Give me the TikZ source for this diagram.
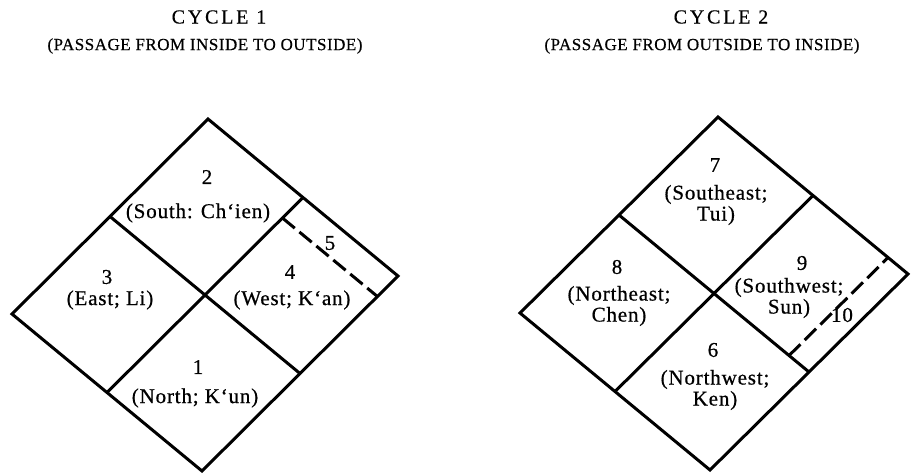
\documentclass[tikz,border=0pt]{standalone}
\usepackage{fontspec}
\setmainfont{Liberation Serif}
\newfontfamily\titlefont{Liberation Serif}[LetterSpace=14,FakeBold=0.4]
\newfontfamily\subfont{Liberation Serif}[LetterSpace=3,FakeBold=0.4]
\newfontfamily\labfont{Liberation Serif}[LetterSpace=4,FakeBold=0.6]
\usetikzlibrary{calc}
\begin{document}
\begin{tikzpicture}[x=1pt,y=-1pt,
  edge/.style={line width=3pt,line join=miter,line cap=butt},
  dashline/.style={line width=3pt,dash pattern=on 16pt off 6pt},
  ttl/.style={inner sep=0pt,font=\titlefont\fontsize{20}{22}\selectfont},
  sub/.style={inner sep=0pt,font=\subfont\fontsize{17}{19}\selectfont},
  lab/.style={inner sep=0pt,align=center,font=\labfont\fontsize{21}{21}\selectfont}]
\useasboundingbox (0,0) rectangle (920,472);
% titles
\node[ttl] (t1) at (219,17) {CYCLE 1};
\node[sub] (s1) at (205,46) {(PASSAGE FROM INSIDE TO OUTSIDE)};
\node[ttl] (t2) at (721,17) {CYCLE 2};
\node[sub] (s2) at (702,46) {(PASSAGE FROM OUTSIDE TO INSIDE)};
% left diamond
\coordinate (T1) at (208,119);
\coordinate (R1) at (398,276);
\coordinate (B1) at (202,471);
\coordinate (L1) at (12,314);
\coordinate (C1) at ($(T1)!0.5!(B1)$);
\coordinate (mTL1) at ($(T1)!0.5!(L1)$);
\coordinate (mRB1) at ($(R1)!0.5!(B1)$);
\coordinate (mLB1) at ($(L1)!0.5!(B1)$);
\coordinate (mTR1) at ($(T1)!0.5!(R1)$);
\coordinate (P1) at ($(mTR1)!0.21!(C1)$);
\coordinate (Q1) at ($(R1)!0.105!(B1)$);
\draw[edge] (T1) -- (R1) -- (B1) -- (L1) -- cycle;
\draw[edge] (mTL1) -- (mRB1);
\draw[edge] (mLB1) -- (mTR1);
\draw[dashline] (P1) -- (Q1);
% right diamond
\coordinate (T2) at (718,117);
\coordinate (R2) at (908,274);
\coordinate (B2) at (710,470);
\coordinate (L2) at (520,313);
\coordinate (C2) at ($(T2)!0.5!(B2)$);
\coordinate (mTL2) at ($(T2)!0.5!(L2)$);
\coordinate (mRB2) at ($(R2)!0.5!(B2)$);
\coordinate (mLB2) at ($(L2)!0.5!(B2)$);
\coordinate (mTR2) at ($(T2)!0.5!(R2)$);
\coordinate (P2) at ($(mRB2)!0.21!(C2)$);
\coordinate (Q2) at ($(R2)!0.105!(T2)$);
\draw[edge] (T2) -- (R2) -- (B2) -- (L2) -- cycle;
\draw[edge] (mTL2) -- (mRB2);
\draw[edge] (mLB2) -- (mTR2);
\draw[dashline] (P2) -- (Q2);
% left labels
\node[lab] (n2) at (207,177) {2};
\node[lab] (l2) at (198,213) {(South: Ch‘ien)};
\node[lab] (n3) at (107,277) {3};
\node[lab] (l3) at (110,300) {(East; Li)};
\node[lab] (n4) at (290,272) {4};
\node[lab] (l4) at (292,300) {(West; K‘an)};
\node[lab] (n5) at (330,243) {5};
\node[lab] (n1) at (198,367) {1};
\node[lab] (l1) at (195,398) {(North; K‘un)};
% right labels
\node[lab] (n7) at (715,165) {7};
\node[lab] (l7) at (716,205) {(Southeast;\\Tui)};
\node[lab] (n8) at (617,267) {8};
\node[lab] (l8) at (619,306) {(Northeast;\\Chen)};
\node[lab] (n9) at (802,263) {9};
\node[lab] (l9) at (789,298) {(Southwest;\\Sun)};
\node[lab] (n10) at (842,315) {10};
\node[lab] (n6) at (713,350) {6};
\node[lab] (l6) at (715,390) {(Northwest;\\Ken)};
\end{tikzpicture}
\end{document}
